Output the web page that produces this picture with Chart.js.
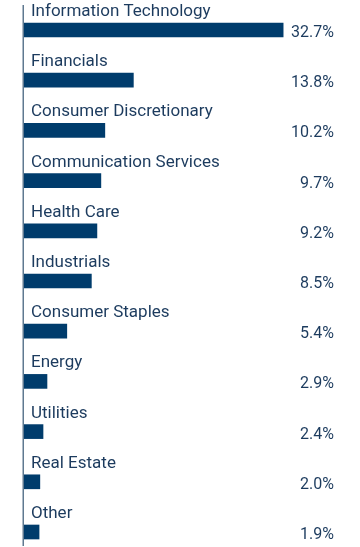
<!DOCTYPE html>
<html>
<head>
<meta charset="utf-8">
<script src="https://cdn.jsdelivr.net/npm/chart.js@4"></script>
<style>
  html, body { margin: 0; padding: 0; background: #fff; }
  #wrap { width: 360px; height: 547px; position: relative; }
</style>
</head>
<body>
<div id="wrap"><canvas id="sectorChart"></canvas></div>
<script>
// Sector weights (%)
const sectors = [
  "Information Technology", "Financials", "Consumer Discretionary",
  "Communication Services", "Health Care", "Industrials",
  "Consumer Staples", "Energy", "Utilities", "Real Estate", "Other"
];
const weights = [32.7, 13.8, 10.2, 9.7, 9.2, 8.5, 5.4, 2.9, 2.4, 2.0, 1.9];

const barColor = "#003c6c";
const textColor = "#1c3b5e";
const axisColor = "#5f7990";

// Draw sector names above bars, values at the right, and the left axis line
const labelPlugin = {
  id: "sectorLabels",
  afterDatasetsDraw(chart) {
    const ctx = chart.ctx;
    const area = chart.chartArea;
    const bars = chart.getDatasetMeta(0).data;
    ctx.save();
    ctx.fillStyle = textColor;
    ctx.textBaseline = "alphabetic";
    bars.forEach((bar, i) => {
      ctx.font = "17px Roboto";
      ctx.textAlign = "left";
      ctx.fillText(sectors[i], 31, bar.y - 14);
      ctx.font = "16px Roboto";
      ctx.textAlign = "right";
      ctx.fillText(weights[i].toFixed(1) + "%", 334, bar.y + 7);
    });
    ctx.strokeStyle = axisColor;
    ctx.lineWidth = 1.5;
    ctx.beginPath();
    ctx.moveTo(23.25, area.top - 25);
    ctx.lineTo(23.25, area.bottom + 14);
    ctx.stroke();
    ctx.restore();
  }
};

new Chart(document.getElementById("sectorChart"), {
  type: "bar",
  data: {
    labels: sectors,
    datasets: [{
      data: weights,
      backgroundColor: barColor,
      barThickness: 14,
      borderWidth: 0,
      clip: false
    }]
  },
  options: {
    indexAxis: "y",
    responsive: true,
    maintainAspectRatio: false,
    animation: false,
    layout: { padding: { left: 24, right: 19, top: 30, bottom: 15 } },
    plugins: { legend: { display: false }, tooltip: { enabled: false } },
    scales: {
      x: { display: false, min: 0, max: 40 },
      y: { display: false, offset: false }
    }
  },
  plugins: [labelPlugin]
});
</script>
</body>
</html>
